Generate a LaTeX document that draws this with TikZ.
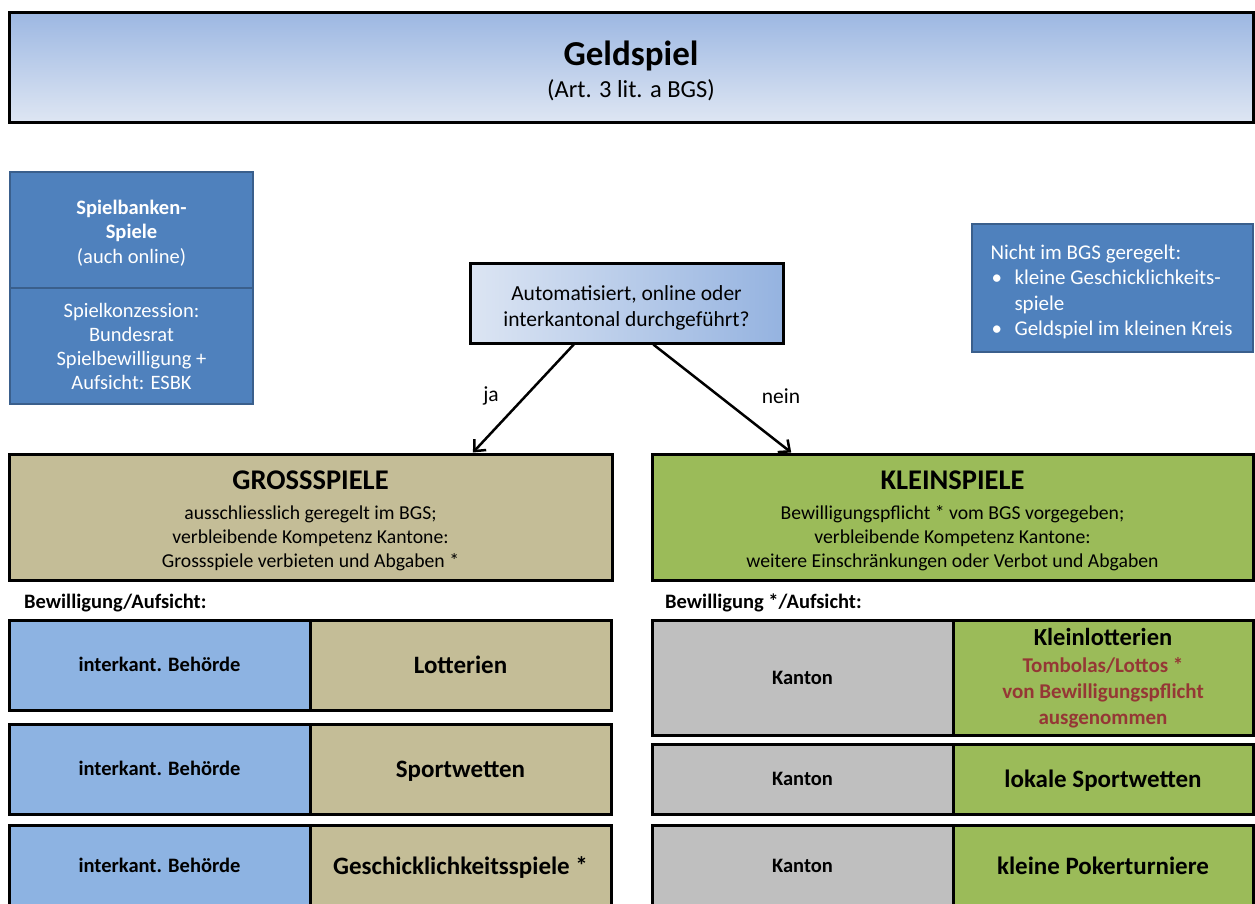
\documentclass[tikz,border=0pt]{standalone}
\usepackage{fontspec}
\setmainfont{Carlito}
\usetikzlibrary{arrows.meta,calc}
\definecolor{titletop}{HTML}{9CB7E2}
\definecolor{titlebot}{HTML}{DEE6F3}
\definecolor{qleft}{HTML}{DCE5F3}
\definecolor{qright}{HTML}{95B3E0}
\definecolor{bankblue}{HTML}{4F81BD}
\definecolor{bankedge}{HTML}{3A5F8C}
\definecolor{tanfill}{HTML}{C4BD97}
\definecolor{greenfill}{HTML}{9BBB59}
\definecolor{bluecell}{HTML}{8DB3E2}
\definecolor{graycell}{HTML}{BFBFBF}
\definecolor{darkred}{HTML}{953735}
\newcommand\fsz[2]{\fontsize{#1}{#2}\selectfont}
\begin{document}
\begin{tikzpicture}[x=1pt,y=-1pt,
  blackbox/.style={draw=black,line width=3pt,inner sep=0pt,align=center},
  bluebox/.style={draw=bankedge,fill=bankblue,line width=2.5pt,inner sep=0pt,text=white},
  txt/.style={inner sep=0pt,align=center},
  cell/.style={blackbox,minimum width=301pt},
  conn/.style={line width=2.5pt,-{Straight Barb[length=9pt,width=16pt,line width=2.5pt]}},
  rowlabel/.style={font=\fsz{20.5}{24}\bfseries,text height=13pt,text depth=0pt},
  rowtitle/.style={font=\fsz{25}{29}\bfseries,text height=17pt,text depth=0pt}]
\useasboundingbox (0,0) rectangle (1255,903);
% title
\node[blackbox,top color=titletop,bottom color=titlebot,minimum width=1244pt,minimum height=110pt] (t) at (631,67) {};
\node[txt,font=\fsz{24.5}{29}] (tt) at ($(t.center)+(0,4)$)
  {{\fsz{35}{40}\bfseries Geldspiel}\\[3pt](Art. 3 lit. a BGS)};
% Spielbanken
\node[bluebox,align=center,minimum width=243pt,minimum height=116pt,font=\fsz{20.5}{24.5}] (sb1) at (131.5,230) {};
\node[txt,text=white,font=\fsz{20.5}{24.5}] (sb1t) at ($(sb1.center)+(0,3)$)
  {\textbf{Spielbanken-}\\\textbf{Spiele}\\(auch online)};
\node[bluebox,align=center,minimum width=243pt,minimum height=116pt,font=\fsz{20.5}{24}] (sb2) at (131.5,346)
  {Spielkonzession:\\Bundesrat\\Spielbewilligung +\\Aufsicht: ESBK};
% Nicht im BGS
\node[bluebox,minimum width=281pt,minimum height=128pt] (n) at (1112.5,288) {};
\node[txt,align=left,text=white,font=\fsz{21}{25.3}] (nt) at ($(n.center)+(-1,4)$)
  {Nicht im BGS geregelt:\\\makebox[24pt][l]{\hspace{1pt}•}kleine Geschicklichkeits-\\\hspace*{24pt}spiele\\\makebox[24pt][l]{\hspace{1pt}•}Geldspiel im kleinen Kreis};
% question
\node[blackbox,left color=qleft,right color=qright,minimum width=313pt,minimum height=80pt] (q) at (626.5,303) {};
\node[txt,font=\fsz{21.5}{26}] (qt) at ($(q.center)+(0,5)$)
  {Automatisiert, online oder\\interkantonal durchgeführt?};
% main categories
\node[blackbox,fill=tanfill,minimum width=603pt,minimum height=126pt] (g) at (310.5,517) {};
\node[txt,font=\fsz{19.7}{24}] (gt) at ($(g.center)+(0,4)$)
  {{\fsz{28.5}{32}\bfseries GROSSSPIELE}\\[6pt]ausschliesslich geregelt im BGS;\\verbleibende Kompetenz Kantone:\\Grossspiele verbieten und Abgaben *};
\node[blackbox,fill=greenfill,minimum width=601pt,minimum height=126pt] (k) at (952.5,517) {};
\node[txt,font=\fsz{19.7}{24}] (kt) at ($(k.center)+(0,4)$)
  {{\fsz{28.5}{32}\bfseries KLEINSPIELE}\\[6pt]Bewilligungspflicht * vom BGS vorgegeben;\\verbleibende Kompetenz Kantone:\\weitere Einschränkungen oder Verbot und Abgaben};
% arrows
\coordinate (qa) at ($(q.south west)!0.333!(q.south east)$);
\coordinate (qb) at ($(q.south west)!0.585!(q.south east)$);
\coordinate (ga) at ($(g.north west)!0.768!(g.north east)$);
\coordinate (kb) at ($(k.north west)!0.233!(k.north east)$);
\draw[conn] (qa) -- (ga);
\draw[conn] (qb) -- (kb);
\node[font=\fsz{21.5}{26}] (ja) at (491,396) {ja};
\node[font=\fsz{21.5}{26}] (nein) at (781,396) {nein};
% labels
\node[anchor=west,inner sep=0pt,font=\fsz{20.5}{24}\bfseries] (bl) at (24,603) {Bewilligung/Aufsicht:};
\node[anchor=west,inner sep=0pt,font=\fsz{20.5}{24}\bfseries] (br) at (665,603) {Bewilligung */Aufsicht:};
% left rows
\node[cell,fill=bluecell,minimum height=90pt,rowlabel] (l1a) at (159.5,665) {interkant. Behörde};
\node[cell,fill=tanfill,minimum height=90pt,rowtitle] (l1b) at (460.5,665) {Lotterien};
\node[cell,fill=bluecell,minimum height=90pt,rowlabel] (l2a) at (159.5,769) {interkant. Behörde};
\node[cell,fill=tanfill,minimum height=90pt,rowtitle] (l2b) at (460.5,769) {Sportwetten};
\node[cell,fill=bluecell,minimum height=82pt,rowlabel] (l3a) at (159.5,866) {interkant. Behörde};
\node[cell,fill=tanfill,minimum height=82pt,rowtitle] (l3b) at (460.5,866) {Geschicklichkeitsspiele *};
% right rows
\node[cell,fill=graycell,minimum height=115pt,rowlabel] (r1a) at (802.5,677.5) {Kanton};
\node[cell,fill=greenfill,minimum height=115pt,minimum width=300pt] (r1b) at (1103,677.5) {};
\node[txt,font=\fsz{21}{26.3}\bfseries] (r1bt) at ($(r1b.center)+(0,1)$)
  {{\fsz{24.5}{29}Kleinlotterien}\\{\color{darkred}Tombolas/Lottos *}\\{\color{darkred}von Bewilligungspflicht}\\{\color{darkred}ausgenommen}};
\node[cell,fill=graycell,minimum height=70pt,rowlabel] (r2a) at (802.5,779) {Kanton};
\node[cell,fill=greenfill,minimum height=70pt,minimum width=300pt,rowtitle] (r2b) at (1103,779) {lokale Sportwetten};
\node[cell,fill=graycell,minimum height=82pt,rowlabel] (r3a) at (802.5,866) {Kanton};
\node[cell,fill=greenfill,minimum height=82pt,minimum width=300pt,rowtitle] (r3b) at (1103,866) {kleine Pokerturniere};
\end{tikzpicture}
\end{document}
